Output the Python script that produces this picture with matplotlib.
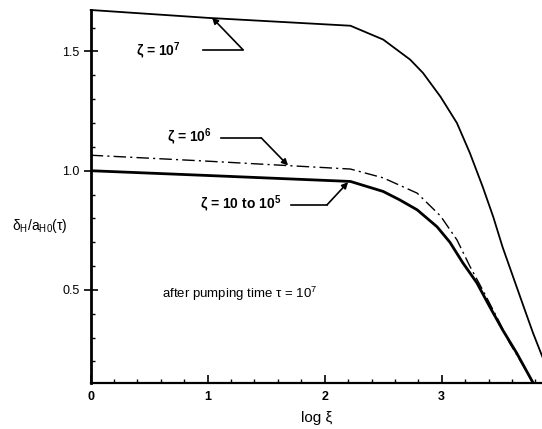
import numpy as np
import matplotlib
matplotlib.use('Agg')
import matplotlib.pyplot as plt
from matplotlib.ticker import MultipleLocator

plt.rcParams['font.family'] = ['Liberation Sans', 'DejaVu Sans']
plt.rcParams['mathtext.fontset'] = 'custom'
plt.rcParams['mathtext.rm'] = 'Liberation Sans'
plt.rcParams['mathtext.it'] = 'Liberation Sans:italic'
plt.rcParams['mathtext.bf'] = 'Liberation Sans:bold'

# zeta = 1e7
logxi_7 = [0.0, 1.0, 2.22, 2.50, 2.73, 2.84, 2.99, 3.13, 3.24, 3.35, 3.44, 3.52, 3.61, 3.70, 3.78, 3.86]
delta_7 = [1.674, 1.641, 1.608, 1.55, 1.466, 1.41, 1.31, 1.20, 1.075, 0.933, 0.807, 0.68, 0.555, 0.43, 0.32, 0.22]

# zeta = 1e6
logxi_6 = [0.0, 1.0, 2.22, 2.50, 2.79, 2.99, 3.13, 3.24, 3.35, 3.47, 3.58, 3.70, 3.78]
delta_6 = [1.065, 1.04, 1.007, 0.97, 0.906, 0.81, 0.71, 0.60, 0.50, 0.387, 0.278, 0.18, 0.111]

# zeta = 10 .. 1e5 (curves coincide)
logxi_lo = [0.0, 1.0, 2.22, 2.50, 2.64, 2.79, 2.96, 3.07, 3.18, 3.30, 3.41, 3.52, 3.64, 3.78]
delta_lo = [1.0, 0.98, 0.955, 0.913, 0.878, 0.836, 0.765, 0.70, 0.614, 0.53, 0.43, 0.333, 0.236, 0.111]

fig = plt.figure(figsize=(5.42, 4.29), dpi=100)
ax = fig.add_axes([0.1673, 0.1079, 0.8327, 0.8688])

ax.plot(logxi_7, delta_7, color='black', lw=1.3, clip_on=False)
ax.plot(logxi_6, delta_6, color='black', lw=1.0, linestyle=(0, (9, 3, 1.5, 3)))
ax.plot(logxi_lo, delta_lo, color='black', lw=2.0)

ax.set_xlim(0, 3.857)
ax.set_ylim(0.111, 1.674)

for s in ('top', 'right'):
    ax.spines[s].set_visible(False)
ax.spines['left'].set_linewidth(2.0)
ax.spines['bottom'].set_linewidth(1.6)

ax.xaxis.set_major_locator(MultipleLocator(1))
ax.xaxis.set_minor_locator(MultipleLocator(0.2))
ax.yaxis.set_major_locator(MultipleLocator(0.5))
ax.yaxis.set_minor_locator(MultipleLocator(0.1))
ax.tick_params(which='both', direction='in', colors='black', labelsize=9)
ax.tick_params(which='major', length=6, width=1.2)
ax.tick_params(which='minor', length=3, width=1.0)
ax.tick_params(axis='y', which='major', direction='inout', length=10, pad=3)
ax.tick_params(axis='x', pad=6)
ax.set_xticks([0, 1, 2, 3])
ax.set_xticklabels(['0', '1', '2', '3'], fontweight='bold')
ax.set_yticks([0.5, 1.0, 1.5])
ax.set_yticklabels(['0.5', '1.0', '1.5'])

ax.set_xlabel('log ξ', fontsize=11, labelpad=6)
ax.set_ylabel(r'δ$_\mathrm{H}$/a$_\mathrm{H0}$(τ)', fontsize=10, rotation=0)
ax.yaxis.set_label_coords(-0.112, 0.396)

arrow = dict(arrowstyle='-|>', color='black', lw=1.2, mutation_scale=9, shrinkA=0, shrinkB=0)

# zeta = 1e7 label with leader
ax.text(0.575, 1.50, r'ζ = 10$^\mathbf{7}$', fontsize=10, fontweight='bold', ha='center', va='center')
ax.plot([0.96, 1.30], [1.508, 1.508], color='black', lw=1.2)
ax.annotate('', xy=(1.037, 1.642), xytext=(1.30, 1.508), arrowprops=arrow)

# zeta = 1e6
ax.text(0.84, 1.138, r'ζ = 10$^\mathbf{6}$', fontsize=10, fontweight='bold', ha='center', va='center')
ax.plot([1.115, 1.457], [1.138, 1.138], color='black', lw=1.2)
ax.annotate('', xy=(1.687, 1.022), xytext=(1.457, 1.138), arrowprops=arrow)

# zeta = 10 to 1e5
ax.text(1.285, 0.857, r'ζ = 10 to 10$^\mathbf{5}$', fontsize=10, fontweight='bold', ha='center', va='center')
ax.plot([1.71, 2.02], [0.857, 0.857], color='black', lw=1.2)
ax.annotate('', xy=(2.20, 0.952), xytext=(2.02, 0.857), arrowprops=arrow)

ax.text(1.27, 0.483, 'after pumping time τ = 10$^7$', fontsize=9.5, ha='center', va='center')

fig.savefig('out.png', dpi=100)
